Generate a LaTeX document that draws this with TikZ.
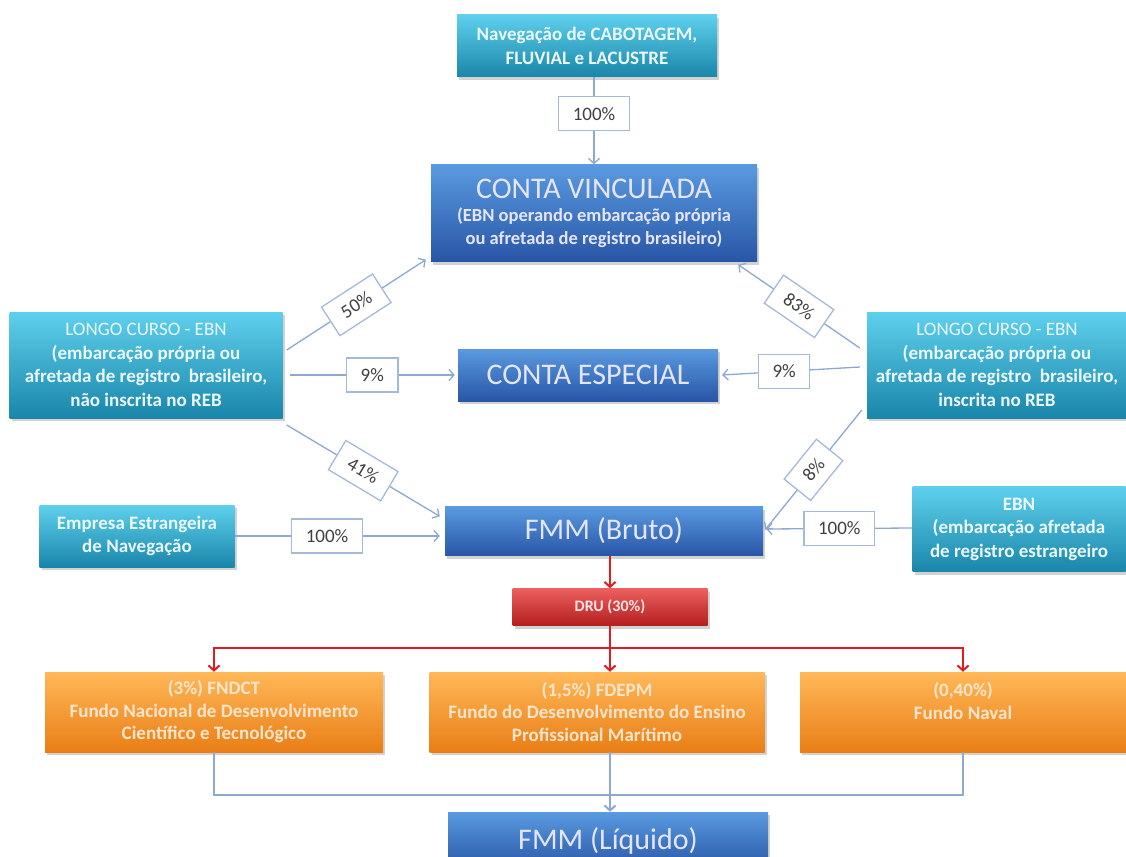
\documentclass[tikz,border=0pt]{standalone}
\usepackage{fontspec}
\setmainfont{Carlito}
\usepackage{tikz}
\usetikzlibrary{arrows.meta,shadows}
\definecolor{tealtop}{HTML}{5ED0EC}
\definecolor{tealbot}{HTML}{1A86AA}
\definecolor{bluetop}{HTML}{5A9AE0}
\definecolor{bluebot}{HTML}{2856A6}
\definecolor{redtop}{HTML}{EC6060}
\definecolor{redbot}{HTML}{B41E1E}
\definecolor{orgtop}{HTML}{FFB858}
\definecolor{orgbot}{HTML}{E97E16}
\definecolor{linkcol}{HTML}{8FA8D0}
\definecolor{redline}{HTML}{E01C1C}
\newcommand\boxtitle{\fontsize{30}{32}\selectfont\mdseries}
\tikzset{
  basebox/.style  = {align=center, inner sep=2pt,
                     drop shadow={opacity=0.35,shadow xshift=2pt,shadow yshift=-3pt}},
  tealbox/.style  = {basebox, top color=tealtop, bottom color=tealbot, text=white!92!cyan,
                     font=\fontsize{19}{23.5}\selectfont\bfseries},
  bluebox/.style  = {basebox, top color=bluetop, bottom color=bluebot, text=white!90!blue,
                     font=\fontsize{18.5}{23}\selectfont\bfseries},
  redbox/.style   = {basebox, top color=redtop, bottom color=redbot, text=white!90!red,
                     font=\fontsize{16}{18}\selectfont\bfseries},
  orgbox/.style   = {basebox, top color=orgtop, bottom color=orgbot, text=white!80!orange,
                     font=\fontsize{19}{22.5}\selectfont\bfseries},
  pct/.style      = {draw=linkcol!80, fill=white, text=black!75, inner xsep=14pt,
                     minimum height=34pt, font=\fontsize{19}{20}\selectfont},
  link/.style     = {-{Straight Barb[length=5pt,width=11pt]}, linkcol, line width=1.3pt},
  redlink/.style  = {-{Straight Barb[length=5pt,width=11pt]}, redline, line width=2pt},
  sumline/.style  = {linkcol, line width=2pt}
}

\begin{document}
\begin{tikzpicture}[x=1pt,y=-1pt]
  \useasboundingbox[fill=white] (0,0) rectangle (1126,856);

  % sources and accounts
  \node[tealbox,minimum width=260,minimum height=62] (cabot) at (587,46)
        {Navegação de CABOTAGEM,\\FLUVIAL e LACUSTRE};
  \node[bluebox,minimum width=326,minimum height=97] (vinc) at (594,213)
        {{\boxtitle CONTA VINCULADA}\\(EBN operando embarcação própria\\ou afretada de registro brasileiro)};
  \node[bluebox,minimum width=260,minimum height=52] (espec) at (588,375) {\boxtitle CONTA ESPECIAL};
  \node[tealbox,minimum width=273,minimum height=106] (lcurso) at (146,365)
        {{\mdseries LONGO CURSO - EBN}\\(embarcação própria ou\\afretada de registro~ brasileiro,\\não inscrita no REB};
  \node[tealbox,minimum width=260,minimum height=106] (rcurso) at (997,365)
        {{\mdseries LONGO CURSO - EBN}\\(embarcação própria ou\\afretada de registro~ brasileiro,\\inscrita no REB};
  \node[tealbox,minimum width=195,minimum height=62] (estrang) at (137,536)
        {Empresa Estrangeira\\de Navegação};
  \node[tealbox,minimum width=213,minimum height=85] (ebn) at (1019,529)
        {EBN\\(embarcação afretada\\de registro estrangeiro};
  \node[bluebox,minimum width=318,minimum height=49] (bruto) at (604,531) {\boxtitle FMM (Bruto)};
  \node[redbox,minimum width=195,minimum height=37] (dru) at (610,607) {DRU (30\%)};

  % funds
  \node[orgbox,minimum width=338,minimum height=80] (fndct) at (214,712)
        {(3\%) FNDCT\\Fundo Nacional de Desenvolvimento\\Científico e Tecnológico};
  \node[orgbox,minimum width=335,minimum height=80] (fdepm) at (597,712)
        {(1,5\%) FDEPM\\Fundo do Desenvolvimento do Ensino\\Profissional Marítimo};
  \node[orgbox,minimum width=326,minimum height=80] (naval) at (963,712)
        {(0,40\%)\\Fundo Naval\\~};
  \node[bluebox,minimum width=320,minimum height=58] (liquido) at (608,841) {\boxtitle FMM (Líquido)};

  % flows into the accounts
  \draw[link] (cabot.south -| vinc.north) -- node[pct,pos=0.42]{100\%} (vinc.north);
  \draw[link] ([shift={(4,-15)}]lcurso.east) -- node[pct,sloped]{50\%} ([shift={(-5,-2)}]vinc.south west);
  \draw[link] ([shift={(7,10)}]lcurso.east) -- node[pct]{9\%} ([xshift=-3pt]espec.west);
  \draw[link] ([shift={(4,60)}]lcurso.east) -- node[pct,sloped]{41\%} ([shift={(-5,10)}]bruto.north west);
  \draw[link] ([shift={(-7,-17)}]rcurso.west) -- node[pct,sloped]{83\%} ([shift={(-19,3)}]vinc.south east);
  \draw[link] ([shift={(-7,2)}]rcurso.west) -- node[pct,pos=0.55]{9\%} ([xshift=4pt]espec.east);
  \draw[link] ([shift={(-5,45)}]rcurso.west) -- node[pct,sloped]{8\%} ([shift={(2,-26)}]bruto.south east);
  \draw[link] (estrang.east) -- node[pct,pos=0.45]{100\%} ([xshift=-5pt]bruto.west |- estrang.east);
  \draw[link] ([yshift=1pt]ebn.west) -- node[pct]{100\%} ([xshift=3pt]bruto.east |- ebn.west);

  % split of the gross amount
  \coordinate (rbus) at (610,648);
  \coordinate (bbus) at (610,795);
  \draw[redlink] (bruto.south -| dru.north) -- (dru.north);
  \draw[redline,line width=2pt] (dru.south) -- (rbus);
  \draw[redlink] (rbus) -| (fndct.north);
  \draw[redlink] (rbus) -| (naval.north);
  \draw[redlink] (rbus) -- (rbus |- fdepm.north);
  \draw[sumline] (fndct.south) |- (bbus);
  \draw[sumline] (naval.south) |- (bbus);
  \draw[sumline,-{Straight Barb[length=5pt,width=11pt]}] (bbus |- fdepm.south) -- (bbus |- liquido.north);
\end{tikzpicture}
\end{document}
